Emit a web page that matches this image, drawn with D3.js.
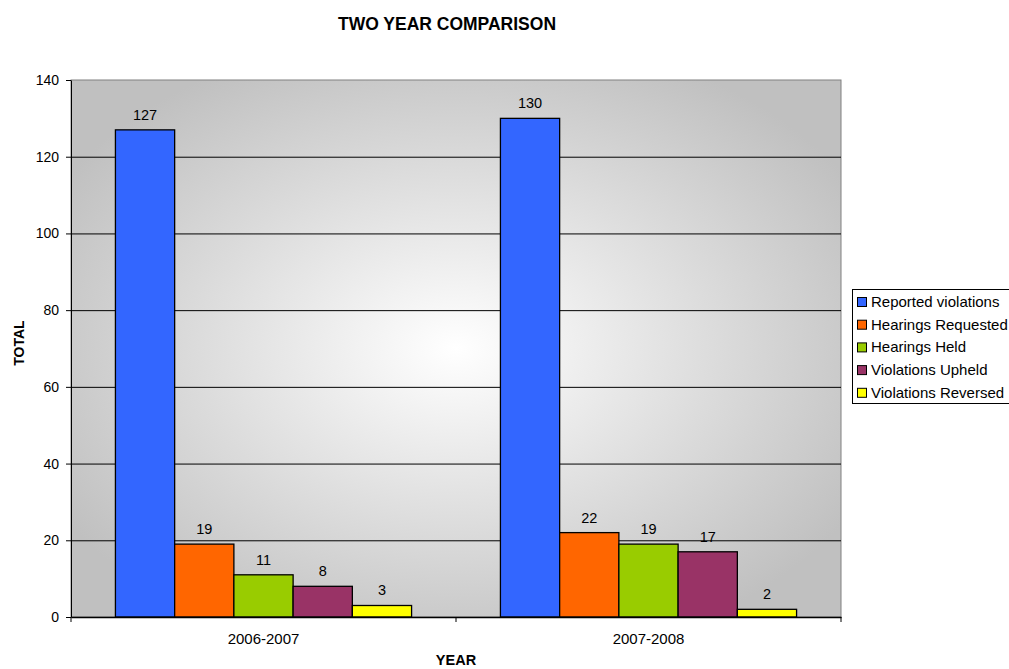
<!DOCTYPE html>
<html><head><meta charset="utf-8">
<script src="https://cdn.jsdelivr.net/npm/d3@7"></script>
<style>body{margin:0;background:#fff}text{font-family:Arial,"Liberation Sans",sans-serif}</style>
</head><body>
<script>
const years = ["2006-2007", "2007-2008"];
const seriesNames = ["Reported violations", "Hearings Requested", "Hearings Held", "Violations Upheld", "Violations Reversed"];
const reported = [127, 130];
const requested = [19, 22];
const held = [11, 19];
const upheld = [8, 17];
const reversed = [3, 2];
const yTicks = [0, 20, 40, 60, 80, 100, 120, 140];
const colors = ["#3366FF", "#FF6600", "#99CC00", "#993366", "#FFFF00"];
const seriesValues = [reported, requested, held, upheld, reversed];

const W = 1009, H = 669;
const m = {left: 71, right: 841, top: 80, bottom: 617};
const svg = d3.select("body").append("svg").attr("width", W).attr("height", H);

const defs = svg.append("defs");
const g1 = defs.append("radialGradient").attr("id", "bg").attr("cx", "50%").attr("cy", "50%").attr("r", "60%");
g1.append("stop").attr("offset", "0%").attr("stop-color", "#ffffff");
g1.append("stop").attr("offset", "100%").attr("stop-color", "#c0c0c0");

const x0 = d3.scaleBand().domain(years).range([m.left, m.right]).paddingInner(0).paddingOuter(0);
const x1 = d3.scaleBand().domain(seriesNames).range([0, x0.bandwidth()]).paddingOuter(0.75).paddingInner(0);
const y = d3.scaleLinear().domain([0, 140]).range([m.bottom, m.top]);

svg.append("rect").attr("x", m.left).attr("y", m.top).attr("width", m.right - m.left).attr("height", m.bottom - m.top)
  .attr("fill", "url(#bg)").attr("stroke", "#808080").attr("stroke-width", 1);

svg.append("g").selectAll("line").data(yTicks.filter(d => d > 0 && d < 140)).join("line")
  .attr("x1", m.left).attr("x2", m.right).attr("y1", d => y(d) + 0.5).attr("y2", d => y(d) + 0.5)
  .attr("stroke", "#000").attr("stroke-width", 1);

// bars
seriesNames.forEach((s, si) => {
  const g = svg.append("g");
  g.selectAll("rect").data(years).join("rect")
    .attr("x", d => x0(d) + x1(s)).attr("y", (d, i) => y(seriesValues[si][i]))
    .attr("width", x1.bandwidth()).attr("height", (d, i) => y(0) - y(seriesValues[si][i]))
    .attr("fill", colors[si]).attr("stroke", "#000").attr("stroke-width", 1.3);
  g.selectAll("text").data(years).join("text")
    .attr("x", d => x0(d) + x1(s) + x1.bandwidth() / 2).attr("y", (d, i) => y(seriesValues[si][i]) - 10)
    .attr("text-anchor", "middle").attr("font-size", 14.5).attr("fill", "#000")
    .text((d, i) => seriesValues[si][i]);
});

// axes
const yAxis = svg.append("g").attr("transform", `translate(${m.left},0)`)
  .call(d3.axisLeft(y).tickValues(yTicks).tickSize(5).tickSizeOuter(0));
yAxis.select(".domain").attr("stroke", "#000");
yAxis.selectAll("text").attr("font-size", 14).attr("font-family", "Arial, Liberation Sans, sans-serif").attr("dx", "-4");

const xAxis = svg.append("g").attr("transform", `translate(0,${m.bottom})`)
  .call(d3.axisBottom(x0).tickSize(0).tickSizeOuter(0));
xAxis.select(".domain").attr("stroke", "#000").attr("stroke-width", 1.3);
xAxis.selectAll("text").attr("font-size", 15).attr("font-family", "Arial, Liberation Sans, sans-serif").attr("y", 27).attr("dy", null);
// category separator ticks
svg.append("g").selectAll("line").data([m.left, x0(years[1]), m.right]).join("line")
  .attr("x1", d => d).attr("x2", d => d).attr("y1", m.bottom).attr("y2", m.bottom + 5).attr("stroke", "#000");

// titles
svg.append("text").attr("x", 447).attr("y", 29.5).attr("text-anchor", "middle").attr("font-size", 17.5).attr("font-weight", "bold").text("TWO YEAR COMPARISON");
svg.append("text").attr("x", 456).attr("y", 665).attr("text-anchor", "middle").attr("font-size", 14.5).attr("font-weight", "bold").text("YEAR");
svg.append("text").attr("transform", "translate(24,343) rotate(-90)").attr("text-anchor", "middle").attr("font-size", 14).attr("font-weight", "bold").text("TOTAL");

// legend
const lg = svg.append("g");
lg.append("rect").attr("x", 852.5).attr("y", 289.5).attr("width", 170).attr("height", 114).attr("fill", "#fff").attr("stroke", "#000");
seriesNames.forEach((s, i) => {
  const yy = 297 + i * 22.7;
  lg.append("rect").attr("x", 857.5).attr("y", yy + 0.5).attr("width", 9).attr("height", 9).attr("fill", colors[i]).attr("stroke", "#000");
  lg.append("text").attr("x", 871).attr("y", yy + 10).attr("font-size", 15).text(s);
});
</script>
</body></html>
